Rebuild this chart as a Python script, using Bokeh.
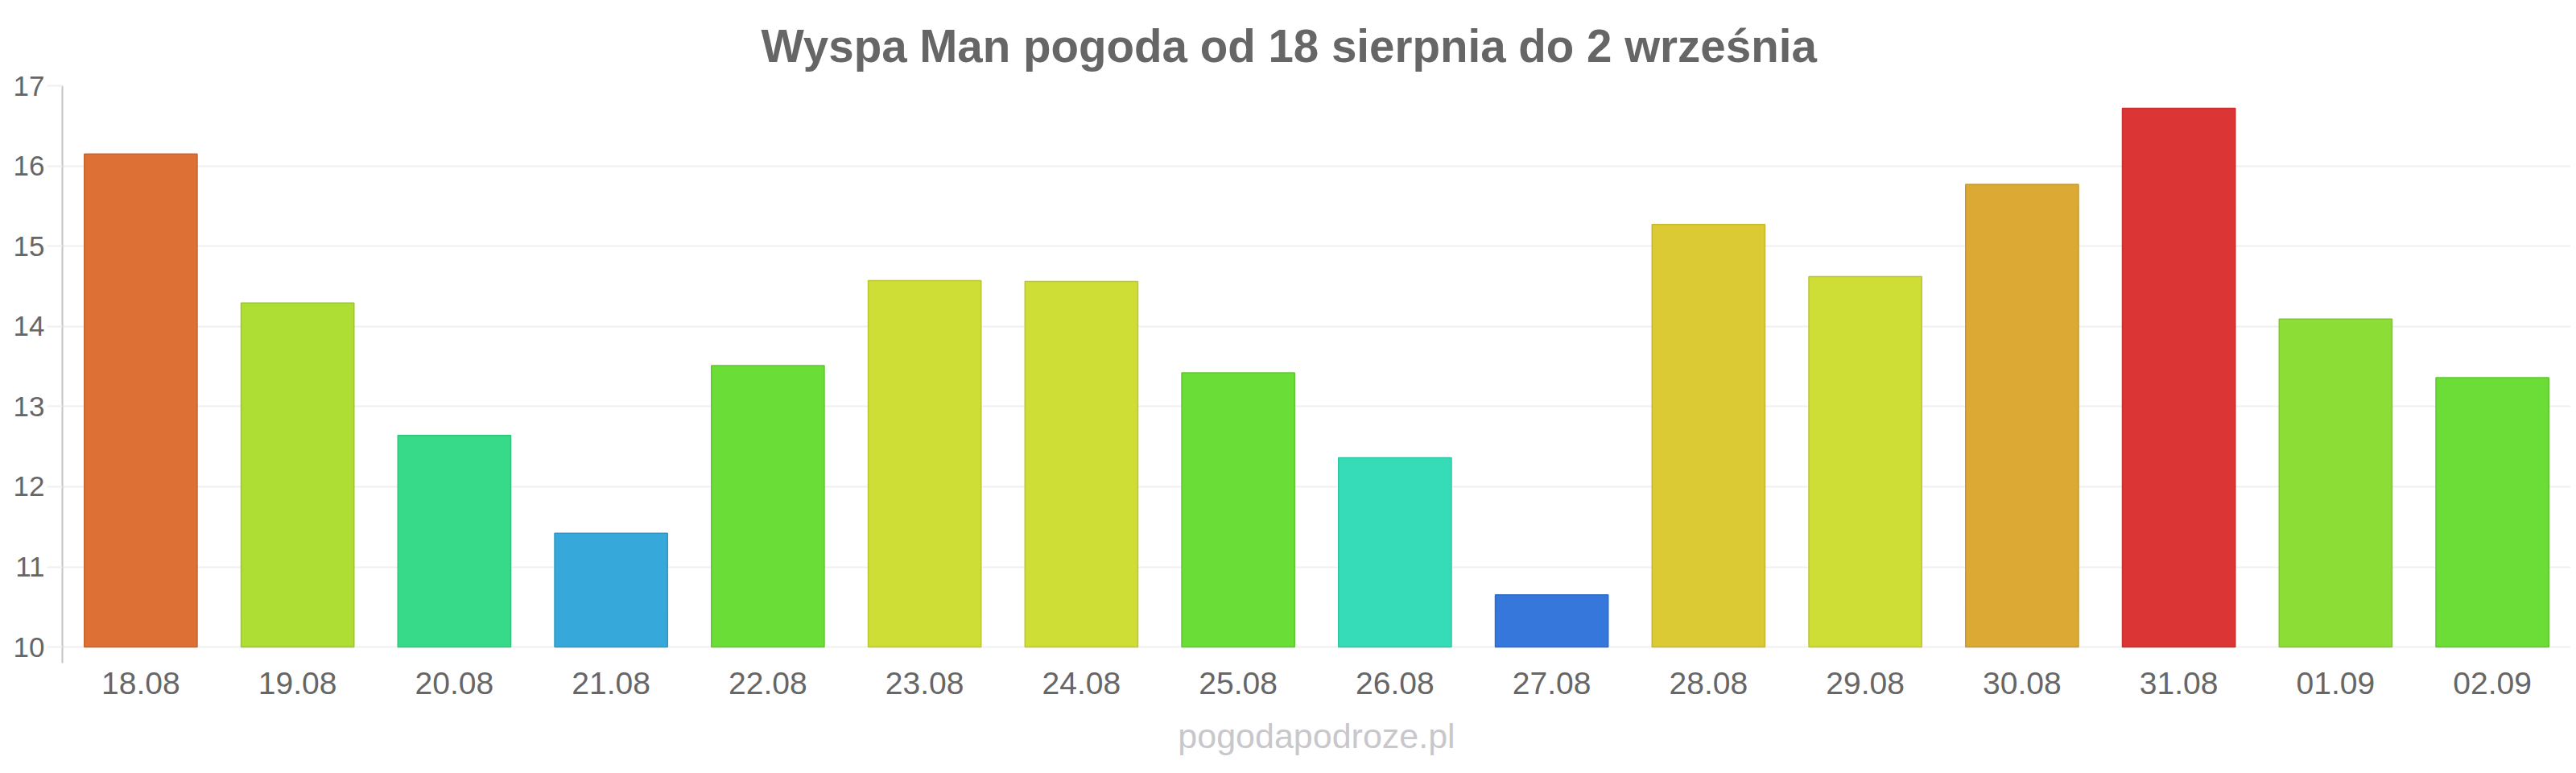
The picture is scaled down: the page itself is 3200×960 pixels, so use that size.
from bokeh.plotting import figure
from bokeh.models import ColumnDataSource, FixedTicker, Range1d, Title
from bokeh.embed import file_html
from bokeh.resources import INLINE

# ---- data ----
dates = ["18.08", "19.08", "20.08", "21.08", "22.08", "23.08", "24.08", "25.08",
         "26.08", "27.08", "28.08", "29.08", "30.08", "31.08", "01.09", "02.09"]
temps = [16.15, 14.29, 12.64, 11.42, 13.51, 14.57, 14.56, 13.42,
         12.36, 10.65, 15.27, 14.62, 15.77, 16.72, 14.09, 13.36]
colors = ["#DD7035", "#AEDD33", "#37DA88", "#36A8DA", "#6BDD37", "#CFDE36", "#CFDE36", "#6BDD37",
          "#35DCB7", "#3577DB", "#DCCA35", "#CFDE36", "#DCA935", "#DB3535", "#8CDD36", "#6BDD36"]
y_ticks = [10, 11, 12, 13, 14, 15, 16, 17]
title_text = "Wyspa Man pogoda od 18 sierpnia do 2 września"
watermark_text = "pogodapodroze.pl"


def darker(hex_color, f=0.9):
    h = hex_color.lstrip("#")
    r, g, b = (int(h[i:i + 2], 16) for i in (0, 2, 4))
    return "#%02x%02x%02x" % (int(r * f), int(g * f), int(b * f))


borders = [darker(c) for c in colors]

src = ColumnDataSource(dict(x=dates, top=temps, fill=colors, line=borders))

W, H = 3200, 960
p = figure(width=W, height=H, x_range=dates, y_range=Range1d(9.8, 17),
           output_backend="svg", toolbar_location=None,
           min_border_left=77, min_border_right=7, min_border_top=106, min_border_bottom=137)
p.title = None
p.outline_line_color = None
p.background_fill_color = "white"
p.border_fill_color = "white"

p.vbar(x="x", top="top", bottom=10, width=0.72, source=src,
       fill_color="fill", line_color="line", line_width=1.5)

FONT = "Liberation Sans"
# y axis
p.yaxis.ticker = FixedTicker(ticks=y_ticks)
p.yaxis.axis_line_color = "#c4c4c4"
p.yaxis.axis_line_width = 2
p.yaxis.major_tick_out = 19
p.yaxis.major_tick_in = 0
p.yaxis.major_tick_line_color = "#f0f0f0"
p.yaxis.major_tick_line_width = 2
p.yaxis.minor_tick_line_color = None
p.yaxis.major_label_standoff = 3
p.yaxis.major_label_text_font = FONT
p.yaxis.major_label_text_font_size = "35px"
p.yaxis.major_label_text_color = "#666666"

# x axis
p.xaxis.axis_line_color = None
p.xaxis.major_tick_line_color = None
p.xaxis.minor_tick_line_color = None
p.xaxis.major_tick_out = 0
p.xaxis.major_label_standoff = 11
p.xaxis.major_label_text_font = FONT
p.xaxis.major_label_text_font_size = "39px"
p.xaxis.major_label_text_color = "#666666"

p.xgrid.grid_line_color = None
p.ygrid.grid_line_color = "#f0f0f0"
p.ygrid.grid_line_width = 2

# title: left-aligned with offset so that it sits centred on the page
p.add_layout(Title(text=title_text, align="left", offset=868, standoff=35,
                   text_font=FONT, text_font_style="bold", text_font_size="56.5px",
                   text_color="#666666"), "above")
# watermark centred under the plot area
p.add_layout(Title(text=watermark_text, align="center", standoff=46,
                   text_font=FONT, text_font_style="normal", text_font_size="43px",
                   text_color="#c8c8cc"), "below")

open("out.html", "w").write(file_html(p, INLINE))
